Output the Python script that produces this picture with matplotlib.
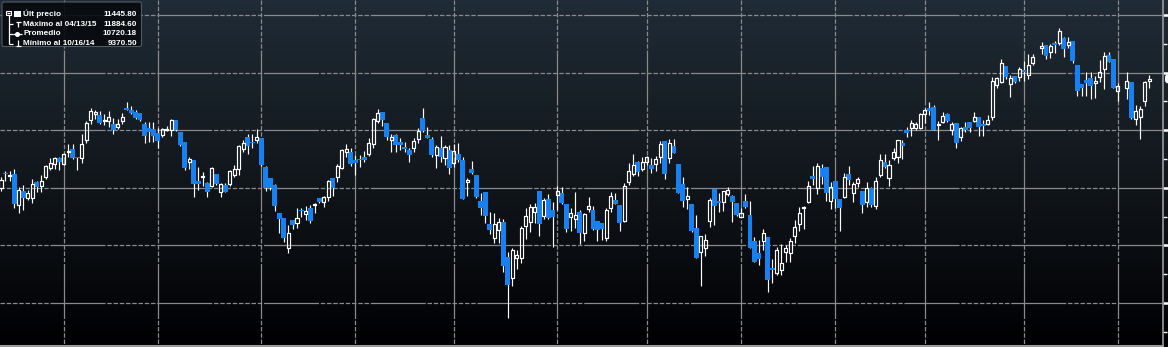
import numpy as np
import matplotlib
matplotlib.use("Agg")
import matplotlib.pyplot as plt
from matplotlib.patches import Rectangle, FancyBboxPatch
from matplotlib.collections import LineCollection, PatchCollection
from matplotlib.colors import LinearSegmentedColormap

# ---------------- data (daily OHLC) ----------------
opens = [10501,10626,10602,10617,10351,10472,10414,10409,10548,10518,
         10591,10669,10704,10756,10704,10813,10837,10765,10761,10915,
         11088,11138,11132,11080,11080,11051,11025,11082,11190,11175,
         11155,11147,11051,11022,11008,10973,10958,11004,10999,11088,
         10982,10895,10726,10741,10559,10596,10539,10518,10620,10466,
         10524,10530,10611,10661,10834,10941,10897,10917,10930,10683,
         10588,10524,10284,10235,9975,10220,10192,10307,10270,10322,
         10351,10409,10379,10423,10582,10596,10669,10813,10808,10739,
         10747,10767,10793,10878,11082,11155,11060,10912,10958,10900,
         10857,10828,10848,10924,11108,10958,10924,10785,10843,10761,
         10828,10718,10791,10741,10553,10663,10611,10385,10461,10183,
         10067,10131,10200,9897,9720,9893,9888,10168,10200,10292,
         10470,10253,10403,10305,10440,10455,10359,10244,10232,10290,
         10105,10313,10307,10214,10197,10062,10322,10394,10351,10214,
         10553,10617,10721,10661,10721,10698,10704,10770,10906,10756,
         10863,10707,10533,10400,10359,10151,9945,9980,10214,10490,
         10388,10379,10446,10431,10371,10249,10388,10264,10038,9931,
         10041,10070,9804,9758,9786,9945,9937,10084,10186,10322,
         10379,10602,10496,10674,10678,10388,10559,10403,10423,10617,
         10452,10539,10472,10379,10496,10342,10611,10726,10582,10761,
         10770,10886,11002,11022,11022,11022,11138,11195,11204,11045,
         11074,11141,11002,11065,10943,11030,11071,11080,11112,11054,
         11054,11112,11392,11421,11557,11398,11470,11459,11522,11479,
         11581,11711,11739,11681,11754,11754,11798,11739,11774,11566,
         11401,11436,11456,11412,11464,11529,11653,11618,11343,11369,
         11421,11095,11117,11256,11430]
highs = [10596,10646,10646,10663,10509,10524,10481,10574,10559,10611,
         10698,10756,10770,10770,10799,10878,10878,10770,10964,11080,
         11190,11175,11167,11138,11167,11103,11097,11147,11247,11210,
         11175,11147,11068,11068,11068,11016,11022,11039,11097,11088,
         10987,10900,10770,10741,10683,10634,10548,10683,10620,10539,
         10539,10654,10698,10871,10915,10964,10964,11010,10930,10692,
         10588,10530,10284,10240,10177,10220,10322,10322,10342,10351,
         10365,10409,10431,10568,10582,10704,10837,10878,10843,10785,
         10785,10819,10930,11103,11181,11160,11060,10964,10964,10935,
         10900,10843,10935,11016,11195,11030,10943,10871,10952,10871,
         10871,10878,10886,10770,10588,10733,10611,10457,10466,10287,
         10279,10235,10229,9945,9975,9960,10168,10322,10357,10365,
         10470,10414,10446,10379,10518,10504,10359,10322,10461,10307,
         10279,10423,10342,10214,10197,10327,10466,10457,10351,10544,
         10718,10793,10735,10765,10776,10761,10776,10906,10906,10921,
         10921,10707,10596,10509,10359,10264,10082,10099,10409,10490,
         10452,10475,10504,10437,10371,10322,10446,10388,10070,10047,
         10140,10070,9879,9989,10012,10003,10067,10220,10336,10342,
         10562,10689,10713,10704,10678,10553,10559,10403,10626,10689,
         10553,10596,10472,10553,10509,10596,10793,10793,10741,10848,
         10915,10915,11025,11088,11074,11147,11190,11242,11219,11082,
         11155,11147,11074,11065,11030,11074,11071,11155,11112,11088,
         11132,11459,11459,11615,11557,11479,11470,11546,11603,11661,
         11661,11768,11739,11748,11777,11884.6,11811,11811,11774,11566,
         11401,11502,11502,11470,11609,11676,11676,11618,11407,11502,
         11421,11219,11210,11430,11479]
lows = [10475,10559,10559,10322,10279,10307,10394,10365,10466,10461,
        10576,10657,10663,10657,10698,10770,10750,10657,10713,10886,
        11051,11097,11051,11045,11030,10964,11008,11051,11175,11138,
        11097,11080,10886,10900,10895,10848,10943,10993,10952,10993,
        10865,10654,10663,10423,10481,10518,10423,10509,10524,10423,
        10461,10518,10596,10611,10813,10796,10848,10886,10692,10472,
        10481,10299,10110,10032,9937,10142,10154,10249,10220,10197,
        10279,10365,10336,10385,10431,10553,10663,10770,10692,10611,
        10683,10726,10776,10843,11060,11039,10915,10813,10813,10828,
        10808,10726,10813,10886,10987,10930,10770,10669,10726,10698,
        10620,10683,10726,10403,10429,10620,10414,10264,10197,10096,
        10018,10018,9766,9370.5,9650,9792,9845,10056,10119,10192,
        10084,10229,10229,9989,10307,10357,10119,10125,10148,10012,
        10038,10292,10134,10041,10047,10041,10292,10359,10128,10206,
        10524,10605,10605,10646,10698,10631,10648,10718,10576,10713,
        10799,10452,10336,10313,10119,9893,9650,9911,10162,10177,
        10292,10301,10429,10206,10255,10249,10322,9980,9858,9830,
        9960,9598,9676,9743,9743,9856,9856,10023,10128,10142,
        10371,10524,10446,10533,10388,10316,10322,10128,10409,10524,
        10379,10509,10284,10336,10336,10313,10596,10669,10516,10741,
        10718,10750,10943,10950,11002,11008,11065,11132,11002,10915,
        11060,11074,10958,10848,10906,10987,10987,11074,10950,10950,
        11045,11088,11364,11407,11442,11291,11407,11430,11430,11442,
        11566,11661,11615,11624,11667,11739,11638,11711,11581,11297,
        11297,11297,11271,11277,11421,11355,11594,11369,11253,11271,
        11095,11045,10921,11210,11369]
closes = [10568,10622,10611,10357,10481,10414,10452,10533,10509,10559,
          10689,10713,10756,10726,10791,10822,10761,10756,10878,11060,
          11167,11155,11065,11088,11112,10999,11051,11117,11178,11147,
          11108,11088,10952,10987,10952,10909,11008,11010,11088,10999,
          10871,10674,10750,10530,10530,10602,10466,10669,10530,10530,
          10466,10646,10663,10863,10886,10865,10891,10941,10698,10501,
          10496,10345,10229,10067,10110,10177,10235,10301,10299,10214,
          10359,10379,10417,10559,10496,10689,10828,10837,10707,10718,
          10741,10739,10886,11097,11147,11088,10943,10943,10871,10871,
          10834,10785,10906,10993,10993,10935,10785,10854,10770,10851,
          10674,10819,10741,10403,10568,10631,10423,10327,10258,10134,
          10183,10200,9824,9656,9960,9914,10148,10255,10331,10336,
          10188,10391,10235,10249,10470,10365,10145,10279,10261,10110,
          10275,10342,10145,10134,10140,10307,10429,10359,10197,10516,
          10646,10698,10640,10721,10765,10661,10747,10880,10617,10891,
          10799,10452,10388,10429,10128,9893,10082,10047,10394,10345,
          10365,10472,10481,10379,10264,10279,10336,9980,9858,9879,
          10110,9700,9784,9960,9845,9975,10038,10162,10279,10336,
          10516,10574,10692,10591,10452,10504,10400,10322,10596,10568,
          10530,10576,10351,10496,10351,10559,10741,10678,10698,10808,
          10915,10865,10978,11060,11054,11141,11175,11167,11002,11054,
          11123,11080,11051,10891,11016,11002,11016,11112,11025,11039,
          11088,11427,11450,11581,11459,11450,11421,11529,11508,11566,
          11633,11731,11647,11731,11739,11863,11702,11768,11603,11343,
          11369,11407,11384,11427,11502,11644,11594,11369,11384,11427,
          11108,11169,11181,11421,11445.8]

gap_after = [231, 249]          # candle numbers followed by a market holiday gap
month_lines = [14, 35, 58, 79, 101, 124, 144, 165, 186, 206, 228, 249]
y_major = [9500, 10000, 10500, 11000, 11500, 12000]
y_minor = [9250, 9750, 10250, 10750, 11250, 11750]
last_price = 11445.80
legend_labels = ["Últ precio", "Máximo al 04/13/15", "Promedio", "Mínimo al 10/16/14"]
legend_values = ["11445.80", "11884.60", "10720.18", "9370.50"]

# ---------------- figure ----------------
W, H = 1168, 347
fig = plt.figure(figsize=(W / 100, H / 100), dpi=100)
fig.patch.set_facecolor("black")

# background gradient
bg = fig.add_axes([0, 0, 1, 1])
bg.axis("off")
cmap = LinearSegmentedColormap.from_list("bb", [(0.122, 0.169, 0.212), (0.07, 0.09, 0.11), (0.0, 0.0, 0.01)])
grad = np.linspace(0, 1, 400).reshape(-1, 1)
bg.imshow(grad, cmap=cmap, aspect="auto", extent=[0, 1, 0, 1], origin="upper")
bg.set_xlim(0, 1); bg.set_ylim(0, 1)

ax = fig.add_axes([0, 1 / H, 1163 / W, 346 / H])
ax.set_facecolor("none")

o = np.array(opens, float); h = np.array(highs, float)
l = np.array(lows, float); c = np.array(closes, float)
n = len(o)
x = np.arange(n, dtype=float)
for g in gap_after:
    x[g:] += 1

up = c >= o
top = np.maximum(o, c)
bot = np.minimum(o, c)

# grid: Bloomberg-like pattern of dashed stretches alternating with solid stretches
pattern = [3.6, 1.4] * 8 + [44, 1.4]
grid_kw = dict(color="#8a8a8a", lw=0.9, linestyle=(0, pattern), zorder=1)
ax.hlines(y_major, -0.22, 262, **grid_kw)
ax.vlines(month_lines, 12130, 9000, **grid_kw)

# wicks
segs = []
for i in range(n):
    if up[i]:
        segs.append([(x[i], h[i]), (x[i], top[i])])
        segs.append([(x[i], bot[i]), (x[i], l[i])])
    else:
        segs.append([(x[i], h[i]), (x[i], l[i])])
ax.add_collection(LineCollection(segs, colors="white", linewidths=0.85, zorder=2))

# bodies
blue_w, white_w = 1.1, 0.68
down_rects = [Rectangle((x[i] - blue_w / 2, bot[i]), blue_w, max(top[i] - bot[i], 4))
              for i in range(n) if not up[i]]
up_rects = [Rectangle((x[i] - white_w / 2, bot[i]), white_w, max(top[i] - bot[i], 3))
            for i in range(n) if up[i]]
ax.add_collection(PatchCollection(down_rects, facecolor="#1581f2", edgecolor="none", zorder=3))
ax.add_collection(PatchCollection(up_rects, facecolor="none", edgecolor="white", linewidths=0.85, zorder=4))

ax.set_xlim(-0.22, -0.22 + 1163 / 4.485)
ax.set_ylim(9127, 12130)

for s in ("top", "left"):
    ax.spines[s].set_visible(False)
ax.spines["right"].set_color("#9a9a9a"); ax.spines["right"].set_linewidth(1.2)
ax.spines["bottom"].set_color("#9a9a9a"); ax.spines["bottom"].set_linewidth(1.5)
ax.set_xticks([])
ax.yaxis.set_ticks_position("right")
ax.set_yticks(y_major)
ax.set_yticks(y_minor, minor=True)
ax.tick_params(axis="y", which="major", direction="out", length=4, width=1.8, color="white",
               labelright=False, labelleft=False)
ax.tick_params(axis="y", which="minor", direction="out", length=3, width=1.0, color="white",
               labelright=False, labelleft=False)

# ---------------- overlay: legend box & last price tag (pixel coords) ----------------
ov = fig.add_axes([0, 0, 1, 1])
ov.set_xlim(0, W); ov.set_ylim(H, 0); ov.axis("off")

ov.add_patch(FancyBboxPatch((2, 2), 139.5, 44.5, boxstyle="round,pad=0,rounding_size=2",
                            fc="#080b0f", ec="#55606b", lw=0.8, alpha=0.92, zorder=5))
rows_y = [14, 24.2, 33.8, 43.6]
fkw = dict(color="white", fontsize=5.85, fontweight="bold", family=["Liberation Sans", "DejaVu Sans"],
           va="center", zorder=7)
for yy, lab, val in zip(rows_y, legend_labels, legend_values):
    ov.text(23, yy, lab, ha="left", **fkw)
    ov.text(137, yy, val, ha="right", **fkw)

lkw = dict(color="white", lw=0.9, zorder=7, solid_capstyle="butt")
# collapse box
ov.add_patch(Rectangle((6, 10.8), 5.2, 4.6, fc="none", ec="white", lw=0.8, zorder=7))
ov.plot([7.2, 10], [13.1, 13.1], **lkw)
# white square
ov.add_patch(Rectangle((14, 10.6), 6.5, 6.2, fc="white", ec="none", zorder=7))
# tree
ov.plot([9, 9], [15.4, 44.2], **lkw)
ov.plot([9, 13], [24.2, 24.2], **lkw)
ov.plot([9, 13], [33.8, 33.8], **lkw)
ov.plot([9, 13], [44.2, 44.2], **lkw)
# max icon (T)
ov.plot([15.8, 20.6], [21.8, 21.8], **lkw)
ov.plot([18.2, 18.2], [21.8, 27.2], **lkw)
# average icon
ov.plot([13, 21.5], [33.8, 33.8], **lkw)
ov.plot([17.2], [33.8], marker="o", ms=2.6, color="white", zorder=8)
# min icon
ov.plot([18.2, 18.2], [40.2, 45.6], **lkw)
ov.plot([15.8, 20.6], [45.6, 45.6], **lkw)

# last price tag peeking at right edge
yl = 346 * (12130 - last_price) / (12130 - 9127)
ov.add_patch(FancyBboxPatch((1165, yl - 4.5), 12, 9, boxstyle="round,pad=0,rounding_size=3",
                            fc="white", ec="none", zorder=6))

fig.savefig("out.png", dpi=100, facecolor=fig.get_facecolor())
